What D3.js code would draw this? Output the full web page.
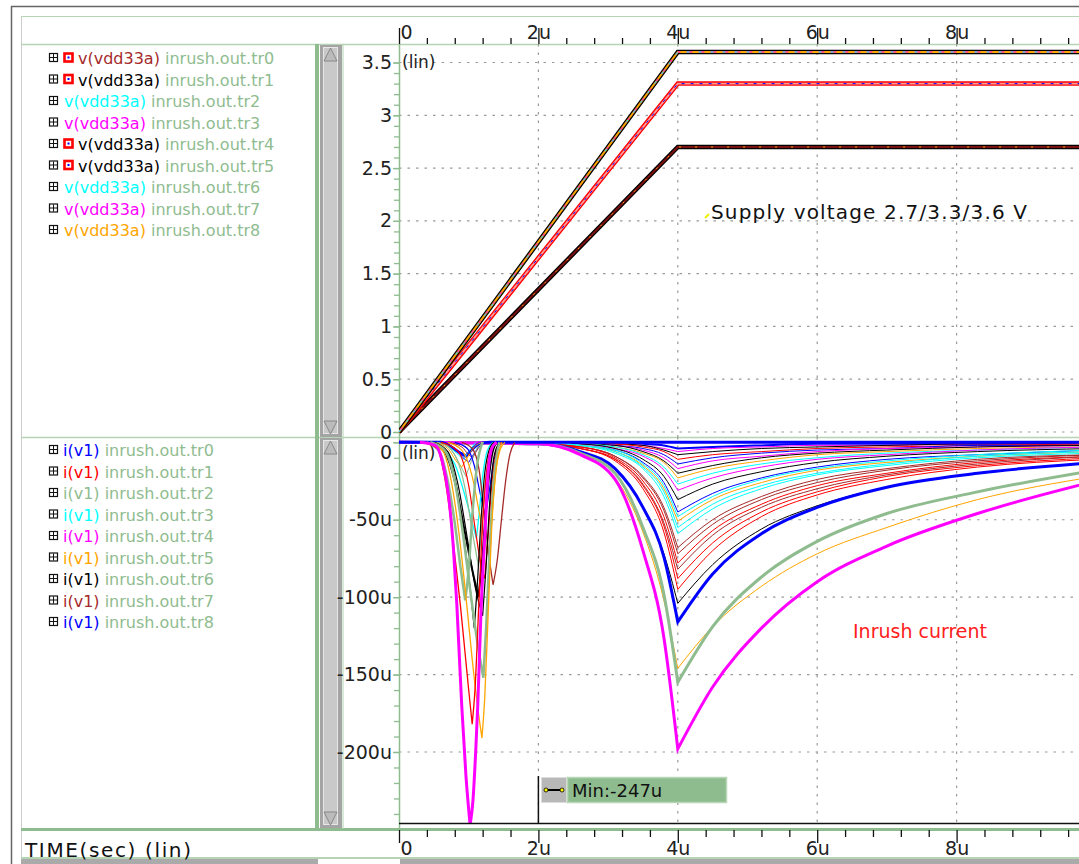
<!DOCTYPE html>
<html>
<head>
<meta charset="utf-8"/>
<script src="https://cdnjs.cloudflare.com/ajax/libs/d3/7.8.5/d3.min.js"></script>
<style>
  body { margin: 0; background: #fff; }
  text { font-family: "DejaVu Sans", sans-serif; }
</style>
</head>
<body>
<script>
const timeTicks = [0, 2, 4, 6, 8];             // u-seconds
const voltTicks = [0, 0.5, 1, 1.5, 2, 2.5, 3, 3.5];
const currTicks = [0, -50, -100, -150, -200];  // uA

const supplyLevels = [2.7, 3.3, 3.6];
const rampTime = [0, 4, 10];

const traceNames = ['tr0', 'tr1', 'tr2', 'tr3', 'tr4', 'tr5', 'tr6', 'tr7', 'tr8'];
const vLegendColors = ['#a52a2a', '#000000', '#00ffff', '#ff00ff', '#000000', '#000000', '#00ffff', '#ff00ff', '#ffa500'];
const vLegendIcon = [true, true, false, false, true, true, false, false, false];
const iLegendColors = ['#0000ff', '#ff0000', '#8fbc8f', '#00ffff', '#ff00ff', '#ffa500', '#000000', '#a52a2a', '#0000ff'];

// slow inrush curves, all on one time grid (us), values in uA
const slowTime = [0, 2.0, 2.6, 3.1, 3.5, 3.8, 4.0, 4.5, 5.2, 6.0, 7.0, 8.3, 10.0];
const slowCurves = [
  { c: '#0000ff', w: 2, v: [0, 0, 0, 0, -1, -2, -4, -3, -2, -1, -1, -1, 0] },
  { c: '#ff00ff', w: 1, v: [0, 0, 0, -1, -2, -4, -6, -4, -3, -2, -2, -1, -1] },
  { c: '#000000', w: 1, v: [0, 0, 0, -1, -2, -5, -8, -6, -4, -3, -2, -1, -1] },
  { c: '#ff0000', w: 1, v: [0, 0, 0, -1, -3, -6, -11, -8, -6, -4, -3, -2, -1] },
  { c: '#0000ff', w: 1, v: [0, 0, 0, -2, -4, -8, -14, -10, -7, -5, -4, -2, -2] },
  { c: '#ff00ff', w: 1, v: [0, 0, -1, -2, -5, -10, -17, -12, -9, -6, -4, -3, -2] },
  { c: '#000000', w: 1, v: [0, 0, -1, -2, -6, -12, -20, -15, -10, -7, -5, -3, -2] },
  { c: '#ffa500', w: 1, v: [0, 0, -1, -3, -7, -13, -23, -17, -12, -8, -6, -4, -3] },
  { c: '#00ffff', w: 1, v: [0, 0, -1, -3, -8, -16, -27, -20, -14, -10, -7, -5, -3] },
  { c: '#ff00ff', w: 1, v: [0, 0, -1, -4, -9, -18, -31, -23, -16, -11, -8, -5, -3] },
  { c: '#000000', w: 1, v: [0, 0, -1, -4, -11, -22, -37, -27, -19, -13, -9, -6, -4] },
  { c: '#0000ff', w: 1, v: [0, 0, -2, -5, -13, -26, -45, -33, -23, -16, -11, -8, -5] },
  { c: '#00ffff', w: 1, v: [0, 0, -2, -5, -14, -28, -48, -35, -24, -17, -12, -8, -5] },
  { c: '#ffa500', w: 1, v: [0, 0, -2, -6, -15, -30, -51, -37, -26, -18, -13, -9, -6] },
  { c: '#00ffff', w: 1, v: [0, 0, -2, -6, -16, -32, -55, -40, -28, -20, -14, -9, -6] },
  { c: '#00ffff', w: 1, v: [0, 0, -2, -7, -17, -35, -59, -43, -30, -21, -15, -10, -7] },
  { c: '#a52a2a', w: 1, v: [0, -1, -3, -9, -22, -42, -68, -50, -35, -24, -17, -11, -8] },
  { c: '#a52a2a', w: 1, v: [0, -1, -3, -9, -23, -44, -72, -53, -37, -26, -18, -12, -8] },
  { c: '#ff0000', w: 1, v: [0, -1, -3, -10, -25, -48, -78, -57, -40, -28, -20, -13, -9] },
  { c: '#a52a2a', w: 1, v: [0, -1, -4, -11, -27, -52, -82, -60, -42, -30, -21, -14, -9] },
  { c: '#ff0000', w: 1, v: [0, -1, -4, -11, -28, -54, -88, -65, -45, -32, -22, -15, -10] },
  { c: '#ff0000', w: 1, v: [0, -1, -4, -12, -30, -58, -95, -70, -48, -34, -24, -16, -11] },
  { c: '#000000', w: 1, v: [0, -1, -6, -17, -42, -72, -104, -79, -56, -41, -29, -20, -13] },
  { c: '#0000ff', w: 3, v: [0, -1, -6, -17, -42, -74, -116, -85, -59, -42, -29, -20, -13] },
  { c: '#ffa500', w: 1, v: [0, -1, -8, -23, -58, -102, -146, -119, -93, -72, -55, -37, -22] },
  { c: '#8fbc8f', w: 3, v: [0, -1, -7, -20, -55, -98, -155, -119, -87, -64, -46, -32, -18] },
  { c: '#ff00ff', w: 3, v: [0, -1, -8, -24, -70, -126, -198, -158, -120, -90, -67, -46, -25] }
];

// fast spikes around 1us, each as [time us, current uA]
const spikes = [
  { c: '#0000ff', w: 3,   p: [[0, 0], [0.6, 0], [0.75, -3], [0.88, -7], [0.96, -9], [1.04, -5], [1.15, -1], [1.3, 0], [10, 0]] },
  { c: '#00ffff', w: 1,   p: [[0.55, 0], [0.72, -3], [0.85, -8], [0.92, -11], [1.0, -6], [1.1, 0]] },
  { c: '#a52a2a', w: 1,   p: [[0.7, 0], [0.9, -3], [1.0, -8], [1.06, -10], [1.12, -5], [1.2, 0]] },
  { c: '#0000ff', w: 1,   p: [[0.6, 0], [0.8, -4], [0.92, -10], [1.0, -13], [1.08, -7], [1.16, -2], [1.25, 0]] },
  { c: '#8fbc8f', w: 1,   p: [[0.55, 0], [0.75, -5], [0.88, -15], [0.96, -22], [1.04, -12], [1.12, -4], [1.22, 0]] },
  { c: '#ffa500', w: 1,   p: [[0.5, 0], [0.7, -4], [0.82, -12], [0.9, -16], [0.98, -10], [1.08, -3], [1.2, 0]] },
  { c: '#0000ff', w: 1.2, p: [[0.8, 0], [0.98, -4], [1.08, -15], [1.16, -32], [1.24, -48], [1.3, -30], [1.36, -12], [1.42, -3], [1.48, 0]] },
  { c: '#00ffff', w: 1.3, p: [[0.45, 0], [0.65, -5], [0.8, -14], [0.95, -35], [1.04, -50], [1.11, -62], [1.15, -46], [1.2, -22], [1.27, -5], [1.35, 0]] },
  { c: '#ffa500', w: 1.2, p: [[0.7, 0], [0.9, -5], [1.05, -22], [1.15, -45], [1.22, -62], [1.28, -72], [1.33, -50], [1.38, -22], [1.45, -5], [1.52, 0]] },
  { c: '#8fbc8f', w: 1.2, p: [[0.6, 0], [0.8, -8], [0.95, -30], [1.06, -60], [1.14, -80], [1.18, -60], [1.23, -30], [1.3, -8], [1.38, 0]] },
  { c: '#ff0000', w: 1.2, p: [[0.6, 0], [0.85, -6], [1.0, -28], [1.1, -58], [1.17, -78], [1.23, -88], [1.28, -60], [1.33, -28], [1.4, -6], [1.47, 0]] },
  { c: '#a52a2a', w: 1.3, p: [[0.9, 0], [1.05, -4], [1.15, -18], [1.22, -45], [1.28, -70], [1.35, -92], [1.41, -76], [1.47, -50], [1.53, -25], [1.59, -8], [1.66, 0]] },
  { c: '#000000', w: 2,   p: [[0.45, 0], [0.65, -6], [0.8, -25], [0.92, -52], [1.04, -80], [1.14, -100], [1.2, -72], [1.26, -36], [1.33, -9], [1.4, 0]] },
  { c: '#000000', w: 1.2, p: [[0.5, 0], [0.7, -6], [0.85, -28], [0.98, -62], [1.1, -95], [1.2, -112], [1.25, -80], [1.3, -40], [1.36, -10], [1.44, 0]] },
  { c: '#000000', w: 1.2, p: [[0.5, 0], [0.7, -8], [0.85, -35], [0.95, -68], [1.03, -98], [1.08, -120], [1.12, -95], [1.17, -55], [1.23, -20], [1.3, -4], [1.36, 0]] },
  { c: '#8fbc8f', w: 2.5, p: [[0.4, 0], [0.58, -6], [0.7, -25], [0.8, -52], [0.88, -80], [0.95, -102], [1.0, -82], [1.05, -48], [1.12, -15], [1.2, 0]] },
  { c: '#8fbc8f', w: 2.5, p: [[0.45, 0], [0.65, -5], [0.8, -25], [0.92, -60], [1.02, -95], [1.12, -128], [1.21, -152], [1.25, -120], [1.3, -70], [1.36, -25], [1.44, 0]] },
  { c: '#ffa500', w: 1.3, p: [[0.4, 0], [0.62, -5], [0.75, -25], [0.85, -55], [0.95, -95], [1.05, -140], [1.12, -168], [1.19, -191], [1.23, -165], [1.28, -110], [1.33, -55], [1.4, -15], [1.48, 0]] },
  { c: '#ff0000', w: 1.3, p: [[0.35, 0], [0.55, -4], [0.64, -19], [0.72, -42], [0.8, -73], [0.88, -105], [0.95, -137], [1.0, -160], [1.05, -182], [1.09, -160], [1.14, -110], [1.19, -60], [1.25, -22], [1.32, -4], [1.4, 0]] },
  { c: '#ff00ff', w: 3,   p: [[0.3, 0], [0.52, -2], [0.62, -12], [0.71, -34], [0.78, -68], [0.83, -105], [0.9, -170], [0.96, -215], [1.02, -247], [1.06, -232], [1.1, -200], [1.13, -170], [1.18, -105], [1.23, -62], [1.28, -19], [1.33, -4], [1.4, 0]] }
];

// ---- layout ----
const W = 1079, H = 864;
const plotL = 399, plotR = 1079;
const topY0 = 44, topY1 = 437, botY0 = 437, botY1 = 823;
const green = '#8fbc8f', lightGreen = '#b4d4b4';

const svg = d3.select('body').append('svg')
  .attr('width', W).attr('height', H);

const x = d3.scaleLinear().domain([0, 10]).range([plotL, plotL + 697]);
const yV = d3.scaleLinear().domain([0, 3.5]).range([432, 62.5]);
const yI = d3.scaleLinear().domain([0, -200]).range([442.3, 752]);

// frames
svg.append('line').attr('x1', 11).attr('x2', W).attr('y1', 6.5).attr('y2', 6.5).attr('stroke', '#666').attr('stroke-width', 1.5);
svg.append('line').attr('x1', 11.5).attr('x2', 11.5).attr('y1', 6).attr('y2', H).attr('stroke', '#666').attr('stroke-width', 1.5);
svg.append('line').attr('x1', 21).attr('x2', W).attr('y1', 16.5).attr('y2', 16.5).attr('stroke', lightGreen);
svg.append('line').attr('x1', 21.5).attr('x2', 21.5).attr('y1', 16).attr('y2', H).attr('stroke', '#ccc');
[44.5, 437.5].forEach(yy => {
  svg.append('line').attr('x1', 21).attr('x2', W).attr('y1', yy).attr('y2', yy).attr('stroke', lightGreen).attr('stroke-width', 1.5);
});
svg.append('rect').attr('x', 21).attr('y', 828).attr('width', W - 21).attr('height', 3).attr('fill', green);
svg.append('rect').attr('x', 21).attr('y', 857).attr('width', W - 21).attr('height', 2).attr('fill', lightGreen);
svg.append('rect').attr('x', 21).attr('y', 859).attr('width', W - 21).attr('height', 5).attr('fill', '#aaa');
svg.append('rect').attr('x', 318).attr('y', 859).attr('width', 82).attr('height', 5).attr('fill', '#fff');

// scroll bars
svg.append('rect').attr('x', 315).attr('y', 44).attr('width', 4).attr('height', 785).attr('fill', green);
[[44, 437], [437, 828]].forEach(([a, b]) => {
  svg.append('rect').attr('x', 320).attr('y', a + 1).attr('width', 22).attr('height', b - a - 1).attr('fill', '#a4a4a4');
  svg.append('rect').attr('x', 323.5).attr('y', a + 3.5).attr('width', 14).attr('height', b - a - 7)
    .attr('fill', '#c9c9c9').attr('stroke', '#e6e6e6');
  svg.append('path').attr('d', `M324,${a + 17}L330.5,${a + 4}L337,${a + 17}Z`).attr('fill', '#bbb').attr('stroke', '#888');
  svg.append('path').attr('d', `M324,${b - 16}L330.5,${b - 3}L337,${b - 16}Z`).attr('fill', '#bbb').attr('stroke', '#888');
});
svg.append('line').attr('x1', 343).attr('x2', 343).attr('y1', 44).attr('y2', 829).attr('stroke', lightGreen);

// clip areas
const defs = svg.append('defs');
defs.append('clipPath').attr('id', 'clipTop').append('rect')
  .attr('x', plotL).attr('y', topY0 + 1).attr('width', plotR - plotL).attr('height', topY1 - topY0 - 1);
defs.append('clipPath').attr('id', 'clipBot').append('rect')
  .attr('x', plotL).attr('y', botY0 + 1).attr('width', plotR - plotL).attr('height', botY1 - botY0);

// grid
const grid = svg.append('g').attr('stroke', '#9a9a9a').attr('stroke-width', 1.2).attr('stroke-dasharray', '2.5,6');
voltTicks.forEach(v => grid.append('line').attr('x1', plotL).attr('x2', plotR).attr('y1', yV(v)).attr('y2', yV(v)));
currTicks.forEach(v => grid.append('line').attr('x1', plotL).attr('x2', plotR).attr('y1', yI(v)).attr('y2', yI(v)));
timeTicks.filter(t => t > 0).forEach(t => {
  grid.append('line').attr('x1', x(t)).attr('x2', x(t)).attr('y1', topY0).attr('y2', topY1);
  grid.append('line').attr('x1', x(t)).attr('x2', x(t)).attr('y1', botY0).attr('y2', botY1);
});

// y axis lines
svg.append('line').attr('x1', plotL + 0.5).attr('x2', plotL + 0.5).attr('y1', topY0).attr('y2', 829).attr('stroke', green).attr('stroke-width', 1.5);

// x axes (top and bottom), minor ticks every 0.4us
const minorT = d3.range(0, 10, 0.4).filter(t => Math.abs(t / 2 - Math.round(t / 2)) > 0.01);
const tFmt = d => d === 0 ? '0' : d + 'u';
function styleAxis(g) {
  g.select('.domain').remove();
  g.selectAll('line').attr('stroke', '#111').attr('stroke-width', 1.3);
  g.selectAll('text').attr('font-size', 19).attr('fill', '#222');
  g.selectAll('text').filter(d => d === 0).attr('text-anchor', 'start').attr('x', 1);
}
svg.append('g').attr('transform', `translate(0,${topY0})`)
  .call(d3.axisTop(x).tickValues(minorT).tickSize(6).tickFormat('')).call(styleAxis);
svg.append('g').attr('transform', `translate(0,${topY0})`)
  .call(d3.axisTop(x).tickValues(timeTicks).tickSize(16).tickPadding(-11).tickFormat(tFmt)).call(styleAxis);
svg.append('g').attr('transform', `translate(0,830)`)
  .call(d3.axisBottom(x).tickValues(minorT).tickSize(7).tickFormat('')).call(styleAxis);
svg.append('g').attr('transform', `translate(0,830)`)
  .call(d3.axisBottom(x).tickValues(timeTicks).tickSize(13).tickPadding(-1).tickFormat(tFmt)).call(styleAxis);

// y axes
function styleY(g) {
  g.select('.domain').remove();
  g.selectAll('line').attr('stroke', green).attr('stroke-width', 1.3);
  g.selectAll('text').attr('font-size', 19).attr('fill', '#222');
}
svg.append('g').attr('transform', `translate(${plotL},0)`)
  .call(d3.axisLeft(yV).tickValues(d3.range(0, 3.55, 0.1)).tickSize(5).tickFormat('')).call(styleY);
svg.append('g').attr('transform', `translate(${plotL},0)`)
  .call(d3.axisLeft(yV).tickValues(voltTicks).tickSize(6).tickPadding(1).tickFormat(d => d)).call(styleY);
svg.append('g').attr('transform', `translate(${plotL},0)`)
  .call(d3.axisLeft(yI).tickValues(d3.range(0, -250, -10)).tickSize(5).tickFormat('')).call(styleY);
svg.append('g').attr('transform', `translate(${plotL},0)`)
  .call(d3.axisLeft(yI).tickValues(currTicks).tickSize(6).tickPadding(1).tickFormat(d => d === 0 ? '0' : d + 'u')).call(styleY)
  .selectAll('text').filter(d => d === 0).attr('y', 10);

svg.append('text').attr('x', 402).attr('y', 68).attr('font-size', 17).attr('fill', '#222').text('(lin)');
svg.append('text').attr('x', 402).attr('y', 459).attr('font-size', 17).attr('fill', '#222').text('(lin)');

// ---- voltage traces ----
const lineV = d3.line().x(d => x(d[0])).y(d => yV(d[1]));
const vStyles = {
  3.6: [{ c: '#000', w: 4.5 }, { c: '#ffa500', w: 2 }, { c: '#ff00ff', w: 1, dash: '6,6' }, { c: '#00ffff', w: 1, dash: '3,9' }],
  3.3: [{ c: '#ff0000', w: 4.5 }, { c: '#ff9a9a', w: 1.8 }, { c: '#0000ff', w: 1, dash: '3,6' }],
  2.7: [{ c: '#000', w: 4.5 }, { c: '#7a1010', w: 2 }, { c: '#ffa500', w: 1, dash: '2,14' }]
};
const gTop = svg.append('g').attr('clip-path', 'url(#clipTop)');
supplyLevels.forEach(L => {
  const pts = rampTime.map((t, i) => [t, i === 0 ? 0 : L]);
  vStyles[L].forEach(s => {
    gTop.append('path').attr('d', lineV(pts)).attr('fill', 'none')
      .attr('stroke', s.c).attr('stroke-width', s.w).attr('stroke-dasharray', s.dash || null);
  });
});

// ---- current traces ----
const lineI = d3.line().x(d => x(d[0])).y(d => yI(d[1])).curve(d3.curveMonotoneX);
// keep the sharp corner at the minimum: smooth each side separately
function cornerPath(pts) {
  const k = d3.minIndex(pts, d => d[1]);
  const a = lineI(pts.slice(0, k + 1));
  const b = lineI(pts.slice(k));
  return b && pts.length - k > 1 ? a + 'L' + b.slice(1) : a;
}
const gBot = svg.append('g').attr('clip-path', 'url(#clipBot)').attr('fill', 'none');
slowCurves.forEach(s => {
  const pts = slowTime.map((t, i) => [t, s.v[i]]);
  gBot.append('path').attr('d', cornerPath(pts)).attr('stroke', s.c).attr('stroke-width', s.w);
});
spikes.forEach(s => {
  gBot.append('path').attr('d', cornerPath(s.p)).attr('stroke', s.c).attr('stroke-width', s.w);
});

// bottom axis line and cursor
svg.append('line').attr('x1', plotL).attr('x2', plotR).attr('y1', botY1 + 0.5).attr('y2', botY1 + 0.5).attr('stroke', '#111').attr('stroke-width', 1.5);
svg.append('line').attr('x1', x(2)).attr('x2', x(2)).attr('y1', 776).attr('y2', botY1).attr('stroke', '#111').attr('stroke-width', 1.5);
svg.append('rect').attr('x', 541.5).attr('y', 777.5).attr('width', 25).attr('height', 25).attr('fill', '#b8b8b8').attr('stroke', '#ddd');
svg.append('line').attr('x1', 546).attr('x2', 562).attr('y1', 790).attr('y2', 790).attr('stroke', '#000').attr('stroke-width', 2);
[546, 562].forEach(cx => svg.append('circle').attr('cx', cx).attr('cy', 790).attr('r', 2).attr('fill', '#ff0').attr('stroke', '#000').attr('stroke-width', 0.8));
svg.append('rect').attr('x', 567.5).attr('y', 777.5).attr('width', 159).attr('height', 25).attr('fill', green).attr('stroke', '#b8d6b8').attr('stroke-width', 1.5);
svg.append('text').attr('x', 572).attr('y', 797).attr('font-size', 18).attr('fill', '#111').text('Min:-247u');

// annotations
svg.append('line').attr('x1', 705).attr('x2', 709).attr('y1', 218).attr('y2', 214).attr('stroke', '#ee0').attr('stroke-width', 2);
svg.append('text').attr('x', 711).attr('y', 219).attr('font-size', 20).attr('fill', '#111')
  .attr('textLength', 316).attr('lengthAdjust', 'spacing').text('Supply voltage 2.7/3.3/3.6 V');
svg.append('text').attr('x', 853).attr('y', 638).attr('font-size', 19).attr('fill', '#ff2020').text('Inrush current');
svg.append('text').attr('x', 25).attr('y', 857).attr('font-size', 20).attr('fill', '#111')
  .attr('textLength', 166).attr('lengthAdjust', 'spacing').text('TIME(sec) (lin)');

// ---- legends ----
function expander(g, cx, cy) {
  g.append('rect').attr('x', cx - 0.5).attr('y', cy - 4.5).attr('width', 8).attr('height', 8).attr('fill', '#fff').attr('stroke', '#111').attr('stroke-width', 1.2);
  g.append('line').attr('x1', cx + 3.5).attr('x2', cx + 3.5).attr('y1', cy - 4).attr('y2', cy + 3).attr('stroke', '#111');
  g.append('line').attr('x1', cx).attr('x2', cx + 7).attr('y1', cy - 0.5).attr('y2', cy - 0.5).attr('stroke', '#111');
}
const leg = svg.append('g');
traceNames.forEach((n, i) => {
  const cy = 58 + i * 21.5;
  expander(leg, 50, cy);
  let tx = 64;
  if (vLegendIcon[i]) {
    leg.append('rect').attr('x', 64.5).attr('y', cy - 4.5).attr('width', 8).attr('height', 8).attr('fill', '#fff').attr('stroke', '#f00').attr('stroke-width', 2.6);
    leg.append('rect').attr('x', 67.5).attr('y', cy - 1.5).attr('width', 2).attr('height', 2).attr('fill', '#00f');
    tx = 78;
  }
  const t = leg.append('text').attr('x', tx).attr('y', cy + 6).attr('font-size', 16);
  t.append('tspan').attr('fill', vLegendColors[i]).text('v(vdd33a) ');
  t.append('tspan').attr('fill', green).text('inrush.out.' + n);
});
traceNames.forEach((n, i) => {
  const cy = 450 + i * 21.5;
  expander(leg, 50, cy);
  const t = leg.append('text').attr('x', 63).attr('y', cy + 6).attr('font-size', 16);
  t.append('tspan').attr('fill', iLegendColors[i]).text('i(v1) ');
  t.append('tspan').attr('fill', green).text('inrush.out.' + n);
});
</script>
</body>
</html>
